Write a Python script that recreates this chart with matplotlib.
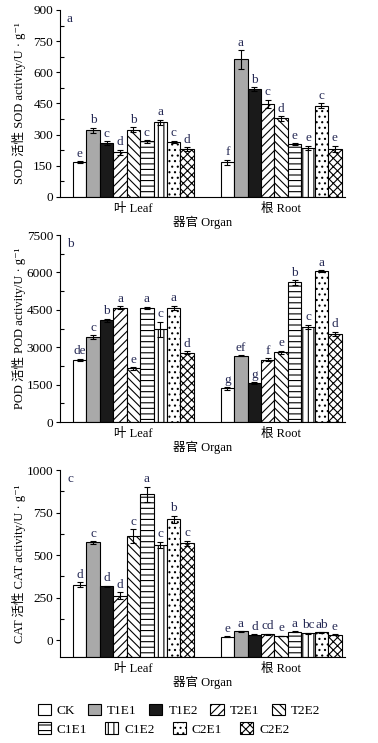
import matplotlib
matplotlib.use("Agg")
import matplotlib.pyplot as plt
import numpy as np
from matplotlib.patches import Patch
from matplotlib.ticker import MultipleLocator

plt.rcParams['font.family'] = ['Liberation Serif', 'Noto Sans CJK SC', 'DejaVu Serif']
plt.rcParams['hatch.linewidth'] = 0.8

treatments = ['CK', 'T1E1', 'T1E2', 'T2E1', 'T2E2', 'C1E1', 'C1E2', 'C2E1', 'C2E2']
organs = ['叶 Leaf', '根 Root']

sod_leaf = [168, 320, 260, 215, 323, 268, 360, 265, 230]
sod_root = [168, 662, 518, 448, 378, 255, 237, 440, 232]
sod_leaf_err = [5, 14, 8, 12, 12, 6, 12, 6, 10]
sod_root_err = [12, 45, 10, 20, 10, 5, 10, 12, 15]
sod_leaf_let = ['e', 'b', 'c', 'd', 'b', 'c', 'a', 'c', 'd']
sod_root_let = ['f', 'a', 'b', 'c', 'd', 'e', 'e', 'c', 'e']

pod_leaf = [2500, 3400, 4080, 4580, 2150, 4570, 3720, 4570, 2780]
pod_root = [1350, 2660, 1560, 2500, 2800, 5600, 3820, 6040, 3530]
pod_leaf_err = [40, 70, 60, 60, 50, 50, 300, 90, 50]
pod_root_err = [50, 30, 30, 50, 60, 90, 90, 40, 100]
pod_leaf_let = ['de', 'c', 'b', 'a', 'e', 'a', 'c', 'a', 'd']
pod_root_let = ['g', 'ef', 'g', 'f', 'e', 'b', 'c', 'a', 'd']

cat_leaf = [325, 575, 315, 260, 612, 858, 560, 710, 570]
cat_root = [20, 51, 31, 35, 23, 49, 41, 45, 31]
cat_leaf_err = [15, 8, 5, 20, 40, 45, 18, 22, 15]
cat_root_err = [2, 2, 2, 3, 2, 3, 3, 2, 2]
cat_leaf_let = ['d', 'c', 'd', 'd', 'c', 'a', 'c', 'b', 'c']
cat_root_let = ['e', 'a', 'd', 'cd', 'e', 'a', 'bc', 'ab', 'e']

facecolors = ['white', '#a9a9a9', '#1a1a1a', 'white', 'white', 'white', 'white', 'white', 'white']
hatches = [None, None, None, '////', '\\\\\\\\', '---', '|||', '...', 'xxxx']

letter_color = '#262a55'
FS = 8.5

fig = plt.figure(figsize=(3.78, 7.43), dpi=100)

panels = [
    dict(leaf=sod_leaf, root=sod_root, le=sod_leaf_err, re=sod_root_err,
         ll=sod_leaf_let, rl=sod_root_let, ylim=(0, 900), step=150,
         ylabel='SOD 活性 SOD activity/U · g⁻¹', tag='a', bottom=0.7349),
    dict(leaf=pod_leaf, root=pod_root, le=pod_leaf_err, re=pod_root_err,
         ll=pod_leaf_let, rl=pod_root_let, ylim=(0, 7500), step=1500,
         ylabel='POD 活性 POD activity/U · g⁻¹', tag='b', bottom=0.432),
    dict(leaf=cat_leaf, root=cat_root, le=cat_leaf_err, re=cat_root_err,
         ll=cat_leaf_let, rl=cat_root_let, ylim=(-100, 1000), step=250,
         ylabel='CAT 活性 CAT activity/U · g⁻¹', tag='c', bottom=0.1157),
]

leaf_x = np.arange(9)
root_x = np.arange(9) + 11

for p in panels:
    ax = fig.add_axes([0.1587, p['bottom'], 0.754, 0.2517])
    ymin, ymax = p['ylim']
    for xs, vals, errs, lets in [(leaf_x, p['leaf'], p['le'], p['ll']),
                                 (root_x, p['root'], p['re'], p['rl'])]:
        vals = np.array(vals, dtype=float)
        errs = np.array(errs, dtype=float)
        for i in range(9):
            ax.bar(xs[i], vals[i] - ymin, bottom=ymin, width=1.0,
                   color=facecolors[i], edgecolor='black', linewidth=0.8,
                   hatch=hatches[i], zorder=2)
        ax.errorbar(xs, vals, yerr=errs, fmt='none', ecolor='black',
                    elinewidth=0.8, capsize=2.2, capthick=0.8, zorder=3)
        for i in range(9):
            ax.annotate(lets[i], (xs[i], vals[i] + errs[i]), xytext=(0, 1),
                        textcoords='offset points', ha='center', va='bottom',
                        fontsize=FS + 1, color=letter_color)
    ax.set_xlim(-1.47, 19.75)
    ax.set_ylim(ymin, ymax)
    ax.yaxis.set_major_locator(MultipleLocator(p['step']))
    ax.yaxis.set_minor_locator(MultipleLocator(p['step'] / 2))
    if ymin < 0:
        ax.set_yticks(np.arange(0, ymax + 1, p['step']))
    ax.set_xticks([4, 15])
    ax.set_xticklabels(organs, fontsize=FS + 0.5)
    ax.tick_params(axis='x', length=0, pad=4)
    ax.tick_params(axis='y', which='major', direction='out', length=3, width=0.8,
                   labelsize=FS + 1, pad=2)
    ax.tick_params(axis='y', which='minor', direction='in', length=3, width=0.8)
    for s in ['top', 'right']:
        ax.spines[s].set_visible(False)
    for s in ['left', 'bottom']:
        ax.spines[s].set_linewidth(0.8)
    ax.set_xlabel('器官 Organ', fontsize=FS + 0.5, labelpad=1)
    ax.set_ylabel(p['ylabel'], fontsize=FS + 0.5)
    ax.yaxis.set_label_coords(-0.12, 0.5)
    ax.text(0.035, 0.95, p['tag'], transform=ax.transAxes, ha='center', va='center',
            fontsize=FS + 1, color=letter_color)

handles = [Patch(facecolor=facecolors[i], edgecolor='black', linewidth=0.8,
                 hatch=hatches[i], label=treatments[i]) for i in range(9)]
leg1 = fig.legend(handles=handles[:5], loc='center left', bbox_to_anchor=(0.1, 0.044),
                  ncol=5, frameon=False, fontsize=FS + 1, handlelength=1.0,
                  handleheight=1.0, handletextpad=0.45, columnspacing=0.95,
                  borderpad=0, borderaxespad=0)
leg2 = fig.legend(handles=handles[5:], loc='center left', bbox_to_anchor=(0.1, 0.019),
                  ncol=4, frameon=False, fontsize=FS + 1, handlelength=1.0,
                  handleheight=1.0, handletextpad=0.45, columnspacing=1.35,
                  borderpad=0, borderaxespad=0)

fig.savefig('out.png', dpi=100)
